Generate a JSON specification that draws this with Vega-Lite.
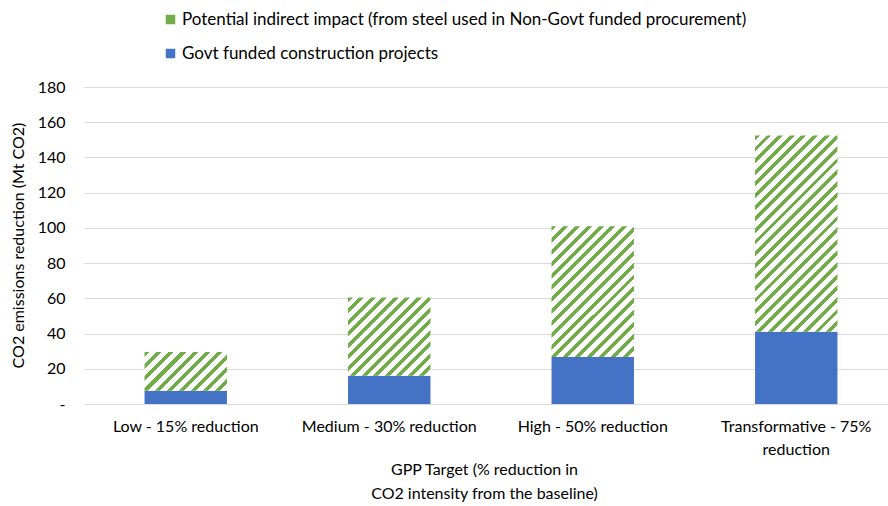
{
  "$schema": "https://vega.github.io/schema/vega-lite/v6.json",
  "width": 804,
  "height": 317,
  "autosize": "none",
  "padding": {"left": 84, "top": 87, "right": 0, "bottom": 102},
  "background": "white",
  "config": {
    "view": {"stroke": null},
    "font": "Lato",
    "axis": {"labelFont": "Lato", "titleFont": "Lato", "labelColor": "#000000", "titleColor": "#000000"}
  },
  "data": {
    "values": [
      {"cat": "Low - 15% reduction", "series": "Govt funded construction projects", "value": 7.5},
      {"cat": "Low - 15% reduction", "series": "Potential indirect impact (from steel used in Non-Govt funded procurement)", "value": 22},
      {"cat": "Medium - 30% reduction", "series": "Govt funded construction projects", "value": 16},
      {"cat": "Medium - 30% reduction", "series": "Potential indirect impact (from steel used in Non-Govt funded procurement)", "value": 44.5},
      {"cat": "High - 50% reduction", "series": "Govt funded construction projects", "value": 26.7},
      {"cat": "High - 50% reduction", "series": "Potential indirect impact (from steel used in Non-Govt funded procurement)", "value": 74.3},
      {"cat": "Transformative - 75% reduction", "series": "Govt funded construction projects", "value": 41},
      {"cat": "Transformative - 75% reduction", "series": "Potential indirect impact (from steel used in Non-Govt funded procurement)", "value": 111.5}
    ]
  },
  "mark": {"type": "bar", "strokeWidth": 0},
  "encoding": {
    "x": {
      "field": "cat",
      "type": "nominal",
      "sort": null,
      "scale": {"range": [0, 814], "paddingInner": 0.595, "paddingOuter": 0.2975},
      "axis": {
        "labelAngle": 0,
        "labelFontSize": 16,
        "labelBaseline": "top",
        "labelPadding": 14,
        "labelLineHeight": 23,
        "labelLimit": 300,
        "ticks": false,
        "domain": false,
        "labelExpr": "datum.label === 'Transformative - 75% reduction' ? ['Transformative - 75%', 'reduction'] : datum.label",
        "title": ["GPP Target (% reduction in", "CO2 intensity from the baseline)"],
        "titleFontSize": 16,
        "titleFontWeight": "normal",
        "titleLineHeight": 24,
        "titleBaseline": "top",
        "titleX": 400,
        "titleY": 57
      }
    },
    "y": {
      "field": "value",
      "type": "quantitative",
      "stack": "zero",
      "scale": {"domain": [0, 180], "nice": false},
      "axis": {
        "values": [0, 20, 40, 60, 80, 100, 120, 140, 160, 180],
        "labelExpr": "datum.value === 0 ? '-\u2007\u2007' : datum.label",
        "labelFontSize": 16,
        "labelPadding": 19,
        "ticks": false,
        "domain": false,
        "gridColor": "#D9D9D9",
        "gridWidth": 1,
        "title": "CO2 emissions reduction (Mt CO2)",
        "titleFontSize": 16,
        "titleFontWeight": "normal",
        "titleX": -66,
        "titleY": 158,
        "titleAlign": "center",
        "titleBaseline": "middle",
        "titleAngle": -90
      }
    },
    "order": {"field": "series", "sort": "ascending"},
    "fill": {
      "field": "series",
      "type": "nominal",
      "scale": {
        "domain": ["Potential indirect impact (from steel used in Non-Govt funded procurement)", "Govt funded construction projects"],
        "range": ["#70AD47", "#4472C4"]
      },
      "legend": {
        "orient": "none",
        "legendX": 78,
        "legendY": -76,
        "title": null,
        "direction": "vertical",
        "symbolType": "square",
        "symbolSize": 90,
        "symbolStrokeWidth": 0,
        "labelFont": "Lato",
        "labelFontSize": 17,
        "labelColor": "#000000",
        "labelOffset": 3,
        "labelLimit": 700,
        "rowPadding": 16
      },
      "condition": [
        {
          "test": "datum.series !== 'Govt funded construction projects' && datum.cat === 'Low - 15% reduction'",
          "value": {"gradient": "linear", "x1": 0, "y1": 0, "x2": 1.204, "y2": 0.566, "stops": [
            {"offset": 0, "color": "#70AD47"}, {"offset": 0.042, "color": "#70AD47"}, {"offset": 0.042, "color": "#FFFFFF"}, {"offset": 0.1, "color": "#FFFFFF"},
            {"offset": 0.1, "color": "#70AD47"}, {"offset": 0.142, "color": "#70AD47"}, {"offset": 0.142, "color": "#FFFFFF"}, {"offset": 0.2, "color": "#FFFFFF"},
            {"offset": 0.2, "color": "#70AD47"}, {"offset": 0.242, "color": "#70AD47"}, {"offset": 0.242, "color": "#FFFFFF"}, {"offset": 0.3, "color": "#FFFFFF"},
            {"offset": 0.3, "color": "#70AD47"}, {"offset": 0.342, "color": "#70AD47"}, {"offset": 0.342, "color": "#FFFFFF"}, {"offset": 0.4, "color": "#FFFFFF"},
            {"offset": 0.4, "color": "#70AD47"}, {"offset": 0.442, "color": "#70AD47"}, {"offset": 0.442, "color": "#FFFFFF"}, {"offset": 0.5, "color": "#FFFFFF"},
            {"offset": 0.5, "color": "#70AD47"}, {"offset": 0.542, "color": "#70AD47"}, {"offset": 0.542, "color": "#FFFFFF"}, {"offset": 0.6, "color": "#FFFFFF"},
            {"offset": 0.6, "color": "#70AD47"}, {"offset": 0.642, "color": "#70AD47"}, {"offset": 0.642, "color": "#FFFFFF"}, {"offset": 0.7, "color": "#FFFFFF"},
            {"offset": 0.7, "color": "#70AD47"}, {"offset": 0.742, "color": "#70AD47"}, {"offset": 0.742, "color": "#FFFFFF"}, {"offset": 0.8, "color": "#FFFFFF"},
            {"offset": 0.8, "color": "#70AD47"}, {"offset": 0.842, "color": "#70AD47"}, {"offset": 0.842, "color": "#FFFFFF"}, {"offset": 0.9, "color": "#FFFFFF"},
            {"offset": 0.9, "color": "#70AD47"}, {"offset": 0.942, "color": "#70AD47"}, {"offset": 0.942, "color": "#FFFFFF"}, {"offset": 1, "color": "#FFFFFF"}
          ]}
        },
        {
          "test": "datum.series !== 'Govt funded construction projects' && datum.cat === 'Medium - 30% reduction'",
          "value": {"gradient": "linear", "x1": 0, "y1": 0, "x2": 1.0244, "y2": 0.9743, "stops": [
            {"offset": 0, "color": "#70AD47"}, {"offset": 0.03, "color": "#70AD47"}, {"offset": 0.03, "color": "#FFFFFF"}, {"offset": 0.0714, "color": "#FFFFFF"},
            {"offset": 0.0714, "color": "#70AD47"}, {"offset": 0.1014, "color": "#70AD47"}, {"offset": 0.1014, "color": "#FFFFFF"}, {"offset": 0.1429, "color": "#FFFFFF"},
            {"offset": 0.1429, "color": "#70AD47"}, {"offset": 0.1729, "color": "#70AD47"}, {"offset": 0.1729, "color": "#FFFFFF"}, {"offset": 0.2143, "color": "#FFFFFF"},
            {"offset": 0.2143, "color": "#70AD47"}, {"offset": 0.2443, "color": "#70AD47"}, {"offset": 0.2443, "color": "#FFFFFF"}, {"offset": 0.2857, "color": "#FFFFFF"},
            {"offset": 0.2857, "color": "#70AD47"}, {"offset": 0.3157, "color": "#70AD47"}, {"offset": 0.3157, "color": "#FFFFFF"}, {"offset": 0.3571, "color": "#FFFFFF"},
            {"offset": 0.3571, "color": "#70AD47"}, {"offset": 0.3871, "color": "#70AD47"}, {"offset": 0.3871, "color": "#FFFFFF"}, {"offset": 0.4286, "color": "#FFFFFF"},
            {"offset": 0.4286, "color": "#70AD47"}, {"offset": 0.4586, "color": "#70AD47"}, {"offset": 0.4586, "color": "#FFFFFF"}, {"offset": 0.5, "color": "#FFFFFF"},
            {"offset": 0.5, "color": "#70AD47"}, {"offset": 0.53, "color": "#70AD47"}, {"offset": 0.53, "color": "#FFFFFF"}, {"offset": 0.5714, "color": "#FFFFFF"},
            {"offset": 0.5714, "color": "#70AD47"}, {"offset": 0.6014, "color": "#70AD47"}, {"offset": 0.6014, "color": "#FFFFFF"}, {"offset": 0.6429, "color": "#FFFFFF"},
            {"offset": 0.6429, "color": "#70AD47"}, {"offset": 0.6729, "color": "#70AD47"}, {"offset": 0.6729, "color": "#FFFFFF"}, {"offset": 0.7143, "color": "#FFFFFF"},
            {"offset": 0.7143, "color": "#70AD47"}, {"offset": 0.7443, "color": "#70AD47"}, {"offset": 0.7443, "color": "#FFFFFF"}, {"offset": 0.7857, "color": "#FFFFFF"},
            {"offset": 0.7857, "color": "#70AD47"}, {"offset": 0.8157, "color": "#70AD47"}, {"offset": 0.8157, "color": "#FFFFFF"}, {"offset": 0.8571, "color": "#FFFFFF"},
            {"offset": 0.8571, "color": "#70AD47"}, {"offset": 0.8871, "color": "#70AD47"}, {"offset": 0.8871, "color": "#FFFFFF"}, {"offset": 0.9286, "color": "#FFFFFF"},
            {"offset": 0.9286, "color": "#70AD47"}, {"offset": 0.9586, "color": "#70AD47"}, {"offset": 0.9586, "color": "#FFFFFF"}, {"offset": 1, "color": "#FFFFFF"}
          ]}
        },
        {
          "test": "datum.series !== 'Govt funded construction projects' && datum.cat === 'High - 50% reduction'",
          "value": {"gradient": "linear", "x1": 0, "y1": 0, "x2": 0.7349, "y2": 1.167, "stops": [
            {"offset": 0, "color": "#70AD47"}, {"offset": 0.0233, "color": "#70AD47"}, {"offset": 0.0233, "color": "#FFFFFF"}, {"offset": 0.0556, "color": "#FFFFFF"},
            {"offset": 0.0556, "color": "#70AD47"}, {"offset": 0.0789, "color": "#70AD47"}, {"offset": 0.0789, "color": "#FFFFFF"}, {"offset": 0.1111, "color": "#FFFFFF"},
            {"offset": 0.1111, "color": "#70AD47"}, {"offset": 0.1344, "color": "#70AD47"}, {"offset": 0.1344, "color": "#FFFFFF"}, {"offset": 0.1667, "color": "#FFFFFF"},
            {"offset": 0.1667, "color": "#70AD47"}, {"offset": 0.19, "color": "#70AD47"}, {"offset": 0.19, "color": "#FFFFFF"}, {"offset": 0.2222, "color": "#FFFFFF"},
            {"offset": 0.2222, "color": "#70AD47"}, {"offset": 0.2456, "color": "#70AD47"}, {"offset": 0.2456, "color": "#FFFFFF"}, {"offset": 0.2778, "color": "#FFFFFF"},
            {"offset": 0.2778, "color": "#70AD47"}, {"offset": 0.3011, "color": "#70AD47"}, {"offset": 0.3011, "color": "#FFFFFF"}, {"offset": 0.3333, "color": "#FFFFFF"},
            {"offset": 0.3333, "color": "#70AD47"}, {"offset": 0.3567, "color": "#70AD47"}, {"offset": 0.3567, "color": "#FFFFFF"}, {"offset": 0.3889, "color": "#FFFFFF"},
            {"offset": 0.3889, "color": "#70AD47"}, {"offset": 0.4122, "color": "#70AD47"}, {"offset": 0.4122, "color": "#FFFFFF"}, {"offset": 0.4444, "color": "#FFFFFF"},
            {"offset": 0.4444, "color": "#70AD47"}, {"offset": 0.4678, "color": "#70AD47"}, {"offset": 0.4678, "color": "#FFFFFF"}, {"offset": 0.5, "color": "#FFFFFF"},
            {"offset": 0.5, "color": "#70AD47"}, {"offset": 0.5233, "color": "#70AD47"}, {"offset": 0.5233, "color": "#FFFFFF"}, {"offset": 0.5556, "color": "#FFFFFF"},
            {"offset": 0.5556, "color": "#70AD47"}, {"offset": 0.5789, "color": "#70AD47"}, {"offset": 0.5789, "color": "#FFFFFF"}, {"offset": 0.6111, "color": "#FFFFFF"},
            {"offset": 0.6111, "color": "#70AD47"}, {"offset": 0.6344, "color": "#70AD47"}, {"offset": 0.6344, "color": "#FFFFFF"}, {"offset": 0.6667, "color": "#FFFFFF"},
            {"offset": 0.6667, "color": "#70AD47"}, {"offset": 0.69, "color": "#70AD47"}, {"offset": 0.69, "color": "#FFFFFF"}, {"offset": 0.7222, "color": "#FFFFFF"},
            {"offset": 0.7222, "color": "#70AD47"}, {"offset": 0.7456, "color": "#70AD47"}, {"offset": 0.7456, "color": "#FFFFFF"}, {"offset": 0.7778, "color": "#FFFFFF"},
            {"offset": 0.7778, "color": "#70AD47"}, {"offset": 0.8011, "color": "#70AD47"}, {"offset": 0.8011, "color": "#FFFFFF"}, {"offset": 0.8333, "color": "#FFFFFF"},
            {"offset": 0.8333, "color": "#70AD47"}, {"offset": 0.8567, "color": "#70AD47"}, {"offset": 0.8567, "color": "#FFFFFF"}, {"offset": 0.8889, "color": "#FFFFFF"},
            {"offset": 0.8889, "color": "#70AD47"}, {"offset": 0.9122, "color": "#70AD47"}, {"offset": 0.9122, "color": "#FFFFFF"}, {"offset": 0.9444, "color": "#FFFFFF"},
            {"offset": 0.9444, "color": "#70AD47"}, {"offset": 0.9678, "color": "#70AD47"}, {"offset": 0.9678, "color": "#FFFFFF"}, {"offset": 1, "color": "#FFFFFF"}
          ]}
        },
        {
          "test": "datum.series !== 'Govt funded construction projects' && datum.cat === 'Transformative - 75% reduction'",
          "value": {"gradient": "linear", "x1": 0, "y1": 0, "x2": 0.5064, "y2": 1.2071, "stops": [
            {"offset": 0, "color": "#70AD47"}, {"offset": 0.0175, "color": "#70AD47"}, {"offset": 0.0175, "color": "#FFFFFF"}, {"offset": 0.0417, "color": "#FFFFFF"},
            {"offset": 0.0417, "color": "#70AD47"}, {"offset": 0.0592, "color": "#70AD47"}, {"offset": 0.0592, "color": "#FFFFFF"}, {"offset": 0.0833, "color": "#FFFFFF"},
            {"offset": 0.0833, "color": "#70AD47"}, {"offset": 0.1008, "color": "#70AD47"}, {"offset": 0.1008, "color": "#FFFFFF"}, {"offset": 0.125, "color": "#FFFFFF"},
            {"offset": 0.125, "color": "#70AD47"}, {"offset": 0.1425, "color": "#70AD47"}, {"offset": 0.1425, "color": "#FFFFFF"}, {"offset": 0.1667, "color": "#FFFFFF"},
            {"offset": 0.1667, "color": "#70AD47"}, {"offset": 0.1842, "color": "#70AD47"}, {"offset": 0.1842, "color": "#FFFFFF"}, {"offset": 0.2083, "color": "#FFFFFF"},
            {"offset": 0.2083, "color": "#70AD47"}, {"offset": 0.2258, "color": "#70AD47"}, {"offset": 0.2258, "color": "#FFFFFF"}, {"offset": 0.25, "color": "#FFFFFF"},
            {"offset": 0.25, "color": "#70AD47"}, {"offset": 0.2675, "color": "#70AD47"}, {"offset": 0.2675, "color": "#FFFFFF"}, {"offset": 0.2917, "color": "#FFFFFF"},
            {"offset": 0.2917, "color": "#70AD47"}, {"offset": 0.3092, "color": "#70AD47"}, {"offset": 0.3092, "color": "#FFFFFF"}, {"offset": 0.3333, "color": "#FFFFFF"},
            {"offset": 0.3333, "color": "#70AD47"}, {"offset": 0.3508, "color": "#70AD47"}, {"offset": 0.3508, "color": "#FFFFFF"}, {"offset": 0.375, "color": "#FFFFFF"},
            {"offset": 0.375, "color": "#70AD47"}, {"offset": 0.3925, "color": "#70AD47"}, {"offset": 0.3925, "color": "#FFFFFF"}, {"offset": 0.4167, "color": "#FFFFFF"},
            {"offset": 0.4167, "color": "#70AD47"}, {"offset": 0.4342, "color": "#70AD47"}, {"offset": 0.4342, "color": "#FFFFFF"}, {"offset": 0.4583, "color": "#FFFFFF"},
            {"offset": 0.4583, "color": "#70AD47"}, {"offset": 0.4758, "color": "#70AD47"}, {"offset": 0.4758, "color": "#FFFFFF"}, {"offset": 0.5, "color": "#FFFFFF"},
            {"offset": 0.5, "color": "#70AD47"}, {"offset": 0.5175, "color": "#70AD47"}, {"offset": 0.5175, "color": "#FFFFFF"}, {"offset": 0.5417, "color": "#FFFFFF"},
            {"offset": 0.5417, "color": "#70AD47"}, {"offset": 0.5592, "color": "#70AD47"}, {"offset": 0.5592, "color": "#FFFFFF"}, {"offset": 0.5833, "color": "#FFFFFF"},
            {"offset": 0.5833, "color": "#70AD47"}, {"offset": 0.6008, "color": "#70AD47"}, {"offset": 0.6008, "color": "#FFFFFF"}, {"offset": 0.625, "color": "#FFFFFF"},
            {"offset": 0.625, "color": "#70AD47"}, {"offset": 0.6425, "color": "#70AD47"}, {"offset": 0.6425, "color": "#FFFFFF"}, {"offset": 0.6667, "color": "#FFFFFF"},
            {"offset": 0.6667, "color": "#70AD47"}, {"offset": 0.6842, "color": "#70AD47"}, {"offset": 0.6842, "color": "#FFFFFF"}, {"offset": 0.7083, "color": "#FFFFFF"},
            {"offset": 0.7083, "color": "#70AD47"}, {"offset": 0.7258, "color": "#70AD47"}, {"offset": 0.7258, "color": "#FFFFFF"}, {"offset": 0.75, "color": "#FFFFFF"},
            {"offset": 0.75, "color": "#70AD47"}, {"offset": 0.7675, "color": "#70AD47"}, {"offset": 0.7675, "color": "#FFFFFF"}, {"offset": 0.7917, "color": "#FFFFFF"},
            {"offset": 0.7917, "color": "#70AD47"}, {"offset": 0.8092, "color": "#70AD47"}, {"offset": 0.8092, "color": "#FFFFFF"}, {"offset": 0.8333, "color": "#FFFFFF"},
            {"offset": 0.8333, "color": "#70AD47"}, {"offset": 0.8508, "color": "#70AD47"}, {"offset": 0.8508, "color": "#FFFFFF"}, {"offset": 0.875, "color": "#FFFFFF"},
            {"offset": 0.875, "color": "#70AD47"}, {"offset": 0.8925, "color": "#70AD47"}, {"offset": 0.8925, "color": "#FFFFFF"}, {"offset": 0.9167, "color": "#FFFFFF"},
            {"offset": 0.9167, "color": "#70AD47"}, {"offset": 0.9342, "color": "#70AD47"}, {"offset": 0.9342, "color": "#FFFFFF"}, {"offset": 0.9583, "color": "#FFFFFF"},
            {"offset": 0.9583, "color": "#70AD47"}, {"offset": 0.9758, "color": "#70AD47"}, {"offset": 0.9758, "color": "#FFFFFF"}, {"offset": 1, "color": "#FFFFFF"}
          ]}
        }
      ]
    }
  }
}
